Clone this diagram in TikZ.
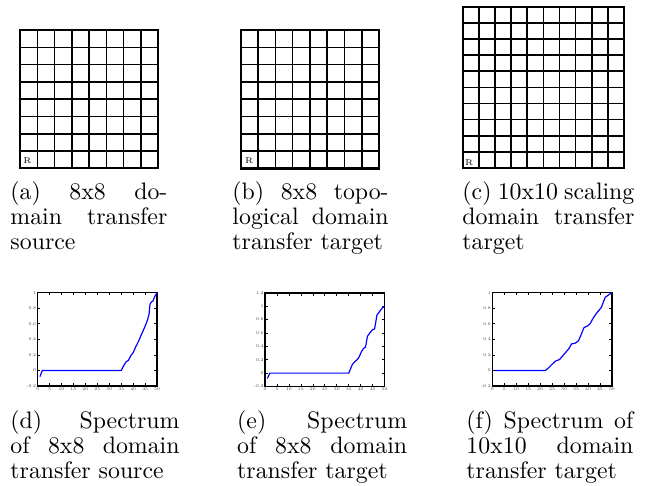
\documentclass[tikz,border=0pt]{standalone}
\usetikzlibrary{positioning}
\tolerance=10000
\tikzset{
  cell/.style={line width=0.65pt},
  box/.style={line width=0.9pt},
  rmark/.style={inner sep=0pt,font=\fontsize{3.5}{4}\selectfont},
  capt/.style={anchor=north west,inner sep=0pt,text width=#1,align=justify,font=\fontsize{10}{10.5}\selectfont},
  axis/.style={line width=0.6pt},
  tick/.style={line width=0.3pt},
  ticklab/.style={inner sep=0.4pt,font=\fontsize{1.8}{2}\selectfont,text=black!75},
  spec/.style={blue,line width=0.5pt,line join=round},
}
% #1 name, #2 left, #3 bottom, #4 y unit, #5 ymax, #6 y ticks, #7 data
\newcommand{\specplot}[7]{%
  \begin{scope}[shift={(#2,#3)},x=1.005pt,y=#4,shift={(0,0.2)}]
    \draw[axis] (0,-0.2) rectangle (50,#5);
    \foreach \t [count=\i] in {0,5,...,50} {
      \draw[tick] (\t,-0.2) -- ++(0pt,1.2pt) (\t,#5) -- ++(0pt,-1.2pt);
      \node[ticklab,below] (#1x\i) at (\t,-0.2) {\t};
    }
    \foreach \v [count=\i] in {#6} {
      \draw[tick] (0,\v) -- ++(1.2pt,0pt) (50,\v) -- ++(-1.2pt,0pt);
      \node[ticklab,left] (#1y\i) at (0,\v) {\v};
    }
    \draw[spec] plot coordinates {#7};
  \end{scope}}

\begin{document}
\begin{tikzpicture}[x=0.42pt,y=-0.42pt]
\useasboundingbox (0,0) rectangle (650,485);

\foreach \gx/\gy/\gs/\gn/\rx/\ry/\nm in {20/30/138.3/8/7.5/7.3/a, 240.7/30/138.5/8/8.5/7.3/b, 462.7/6.7/161.3/10/6.5/4.8/c} {
  \foreach \k in {0,...,\gn} {
    \draw[cell] ({\gx+\k*\gs/\gn},\gy) -- ++(0,\gs);
    \draw[cell] (\gx,{\gy+\k*\gs/\gn}) -- ++(\gs,0);
  }
  \draw[box] (\gx,\gy) rectangle ++(\gs,\gs);
  \node[rmark] (r\nm) at ({\gx+\rx},{\gy+\gs-\ry}) {R};
}

\node[capt=65.9pt] (capa) at (10,181) {(a) 8x8 do-\linebreak main transfer\linebreak source};
\node[capt=65.6pt] (capb) at (232,181) {(b) 8x8 topo-\linebreak logical domain\linebreak transfer target};
\node[capt=72.2pt] (capc) at (462,181) {(c) 10x10 scaling\linebreak domain transfer\linebreak target};

\specplot{d}{37.5}{386}{32.7pt}{1}{-0.2,0,0.2,0.4,0.6,0.8,1}
  {(1,-0.08) (2,0) (35,0) (36,0.06) (37,0.11) (38,0.13) (39,0.19) (40,0.23) (41,0.30) (42,0.36) (43,0.43) (44,0.50) (45,0.57) (46,0.65) (46.6,0.72) (47,0.85) (47.6,0.88) (48.2,0.89) (49,0.95) (50,1)}
\specplot{e}{265}{386.5}{28.1pt}{1.2}{-0.2,0,0.2,0.4,0.6,0.8,1,1.2}
  {(1,-0.08) (2,0) (35,0) (35.7,0.06) (36.5,0.13) (37.5,0.17) (38.5,0.2) (39.3,0.24) (40.3,0.32) (41.2,0.37) (42,0.39) (42.8,0.55) (43.8,0.6) (44.9,0.65) (45.8,0.66) (46.8,0.87) (47.9,0.92) (48.9,0.97) (50,1)}
\specplot{f}{492.3}{386}{32.7pt}{1}{-0.2,0,0.2,0.4,0.6,0.8,1}
  {(1,0) (22.2,0) (23.4,0.03) (25,0.08) (26.4,0.12) (28.1,0.14) (29.2,0.18) (30.9,0.24) (32,0.28) (33.1,0.34) (34.6,0.35) (36,0.38) (37,0.45) (38.3,0.55) (39.7,0.57) (40.9,0.6) (42.1,0.67) (43.7,0.74) (45.6,0.81) (46.3,0.87) (47.2,0.94) (48.6,0.97) (50,1)}

\node[capt=71pt] (capd) at (10,410) {(d) Spectrum\linebreak of 8x8 domain\linebreak transfer source};
\node[capt=71.4pt] (cape) at (236.7,410) {(e) Spectrum\linebreak of 8x8 domain\linebreak transfer target};
\node[capt=70.1pt] (capf) at (466,410) {(f) Spectrum of\linebreak 10x10 domain\linebreak transfer target};
\end{tikzpicture}
\end{document}
